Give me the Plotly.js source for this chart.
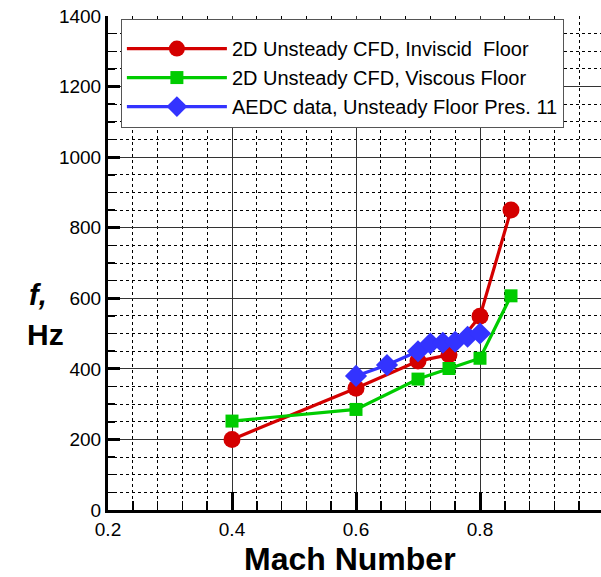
<!DOCTYPE html>
<html>
<head>
<meta charset="utf-8">
<script src="https://cdn.plot.ly/plotly-3.0.1.min.js"></script>
<style>
html,body{margin:0;padding:0;overflow:hidden;background:#fff;}
#chart{width:606px;height:577px;}
</style>
</head>
<body>
<div id="chart"></div>
<script>
// Data
const machInviscid = [0.4, 0.6, 0.7, 0.75, 0.8, 0.85];
const freqInviscid = [200, 345, 422, 440, 549, 850];

const machViscous = [0.4, 0.6, 0.7, 0.75, 0.8, 0.85];
const freqViscous = [252, 285, 371, 401, 430, 607];

const machAEDC = [0.6, 0.65, 0.7, 0.72, 0.74, 0.76, 0.78, 0.8];
const freqAEDC = [380, 411, 450, 472, 474, 477, 491, 500];

const seriesNames = [
  "2D Unsteady CFD, Inviscid  Floor",
  "2D Unsteady CFD, Viscous Floor",
  "AEDC data, Unsteady Floor Pres. 11"
];

const xTickVals = [0.2, 0.4, 0.6, 0.8, 1.0];
const xTickText = ["0.2", "0.4", "0.6", "0.8", "1"];
const yTickVals = [0, 200, 400, 600, 800, 1000, 1200, 1400];

const font = "Liberation Sans, Arial, sans-serif";

const traces = [
  {x: machInviscid, y: freqInviscid, name: seriesNames[0], mode: "lines+markers",
   line: {color: "#d40000", width: 3.2},
   marker: {symbol: "circle", size: 17, color: "#d40000"}},
  {x: machViscous, y: freqViscous, name: seriesNames[1], mode: "lines+markers",
   line: {color: "#00cc00", width: 3.2},
   marker: {symbol: "square", size: 13, color: "#00cc00"}},
  {x: machAEDC, y: freqAEDC, name: seriesNames[2], mode: "lines+markers",
   line: {color: "#3333ff", width: 3.2},
   marker: {symbol: "diamond", size: 17, color: "#3333ff"}}
];

const layout = {
  width: 606, height: 577,
  margin: {l: 108, r: 2, t: 16, b: 67},
  paper_bgcolor: "#fff", plot_bgcolor: "#fff",
  font: {family: font, color: "#000", size: 19},
  showlegend: true,
  legend: {
    x: 0.026, y: 0.994, xanchor: "left", yanchor: "top",
    bgcolor: "#fff", bordercolor: "#555", borderwidth: 1,
    font: {family: font, size: 20, color: "#000"},
    title: {text: "&nbsp;", font: {size: 7}},
    itemwidth: 100, tracegroupgap: 0
  },
  xaxis: {
    range: [0.2, 1.0], tickvals: xTickVals, ticktext: xTickText,
    showline: true, linecolor: "#000", linewidth: 3,
    ticks: "inside", ticklen: 18, tickwidth: 3, tickcolor: "#000",
    showgrid: true, gridcolor: "#333", gridwidth: 1,
    zeroline: false,
    tickfont: {family: font, size: 19},
    minor: {dtick: 0.04, tick0: 0.2, ticks: "inside", ticklen: 9, tickwidth: 1.5,
            tickcolor: "#000", showgrid: true, gridcolor: "#000", gridwidth: 1, griddash: "dot"}
  },
  yaxis: {
    range: [0, 1400], tickvals: yTickVals,
    showline: true, linecolor: "#000", linewidth: 3,
    ticks: "inside", ticklen: 12, tickwidth: 3, tickcolor: "#000",
    showgrid: true, gridcolor: "#333", gridwidth: 1,
    zeroline: false,
    tickfont: {family: font, size: 19},
    minor: {dtick: 50, tick0: 0, ticks: "inside", ticklen: 7, tickwidth: 1.5,
            tickcolor: "#000", showgrid: true, gridcolor: "#000", gridwidth: 1, griddash: "dot"}
  },
  annotations: [
    {text: "<b>Mach Number</b>", xref: "paper", yref: "paper",
     x: (350 - 108) / 496, y: (510 - 559) / 494, xanchor: "center", yanchor: "middle",
     showarrow: false, font: {family: font, size: 32, color: "#000"}},
    {text: "<b><i>f,</i></b>", xref: "paper", yref: "paper",
     x: (38 - 108) / 496, y: (510 - 295) / 494, xanchor: "center", yanchor: "middle",
     showarrow: false, font: {family: font, size: 29, color: "#000"}},
    {text: "<b>Hz</b>", xref: "paper", yref: "paper",
     x: (45 - 108) / 496, y: (510 - 334) / 494, xanchor: "center", yanchor: "middle",
     showarrow: false, font: {family: font, size: 30, color: "#000"}}
  ]
};

Plotly.newPlot("chart", traces, layout, {displayModeBar: false, staticPlot: true});
</script>
</body>
</html>
